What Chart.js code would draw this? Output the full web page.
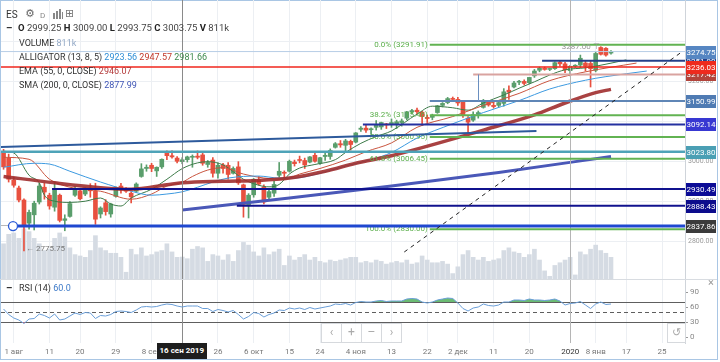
<!DOCTYPE html>
<html><head><meta charset="utf-8">
<script src="https://cdn.jsdelivr.net/npm/chart.js@4"></script>
<style>
html,body{margin:0;padding:0;background:#fff;width:720px;height:362px;overflow:hidden;font-family:Roboto,"Noto Sans",sans-serif;}
#frame{position:absolute;left:0;top:0;width:716px;height:358px;border:1px solid #a9c6e4;}
canvas{position:absolute;left:0;}
#cMain{top:0;}
#cRsi{top:279px;}
.t{position:absolute;white-space:nowrap;line-height:12px;color:#333;font-size:9px;z-index:5;}
.nav{position:absolute;top:323px;height:18px;width:19px;border:1px solid #d6d9dd;background:rgba(255,255,255,0.85);color:#aaa;font-size:12px;line-height:17px;text-align:center;z-index:5;}
</style></head>
<body>
<div id="frame"></div>
<canvas id="cMain" width="717" height="279"></canvas>
<canvas id="cRsi" width="717" height="83"></canvas>

<div class="t" style="left:6px;top:9px;font-size:10px;color:#333">ES</div>
<div class="t" style="left:25px;top:8px;font-size:11px;color:#666;font-family:'DejaVu Sans'">⚙</div>
<div class="t" style="left:40px;top:10px;font-size:8px;color:#888">D</div>
<div style="position:absolute;left:53px;top:13px;width:2px;height:6px;background:#888;z-index:5"></div>
<div style="position:absolute;left:56px;top:11px;width:2px;height:8px;background:#888;z-index:5"></div>
<div style="position:absolute;left:59px;top:9px;width:2px;height:10px;background:#888;z-index:5"></div>
<div style="position:absolute;left:62px;top:12px;width:1px;height:7px;background:#888;z-index:5"></div>
<div class="t" style="left:65px;top:8px;font-size:11px;color:#777;font-family:'DejaVu Sans'">⊞</div>
<div class="t" style="left:6px;top:22px;font-weight:bold;font-size:10px">–</div>
<div class="t" id="ohlc" style="left:18px;top:22px;font-size:9.5px;color:#444"></div>
<div class="t" id="hVol" style="left:19px;top:37px"></div>
<div class="t" id="hAll" style="left:19px;top:51px"></div>
<div class="t" id="hEma" style="left:19px;top:65px"></div>
<div class="t" id="hSma" style="left:19px;top:79px"></div>

<div class="t" style="left:6px;top:282px;font-weight:bold;font-size:10px">–</div>
<div class="t" id="hRsi" style="left:19px;top:282px"></div>
<div class="t" style="left:708px;top:277px;font-size:11px;color:#999">×</div>

<div class="nav" style="left:321px">‹</div>
<div class="nav" style="left:341px">+</div>
<div class="nav" style="left:361px">–</div>
<div class="nav" style="left:381px">›</div>
<div class="nav" style="left:667px;width:17px;font-family:'DejaVu Sans';font-size:11px">↺</div>

<div class="t" id="xBox" style="top:343px;height:16px;line-height:16px;background:#1e1e1e;color:#fff;font-weight:bold;font-size:8px;padding:0 3px;"></div>

<script>
// ---------------- DATA ----------------
const categories = [];
(function(){ const d = new Date(Date.UTC(2019,6,30)); while(categories.length < 134){ const w = d.getUTCDay(); if(w!==0 && w!==6) categories.push(d.toISOString().slice(0,10)); d.setUTCDate(d.getUTCDate()+1);} })();

const openP  = [3024,3008,2953,2933,2903,2845,2866,2898,2935,2915,2885,2915,2852,2862,2915,2926,2918,2928,2925,2868,2896,2868,2912,2938,2930,2920,2925,2962,2982,2990,2976,2986,3023,3014,3008,2999.25,3004,3010,3013,3016,2992,3003,2970,2991,2990,2970,2986,2941,2890,2916,2954,2936,2910,2920,2965,2972,2975,2998,3003,3002,2998,3015,2995,3012,3012,3035,3044,3040,3050,3048,3080,3083,3079,3085,3086,3092,3094,3092,3097,3108,3124,3128,3123,3110,3110,3122,3140,3147,3157,3155,3148,3108,3103,3118,3135,3150,3140,3140,3145,3178,3186,3198,3200,3197,3214,3228,3233,3230,3232,3248,3244,3227,3238,3241,3246,3245,3228,3285,3283,3271];
const highP  = [3030,3018,2960,2938,2906,2878,2900,2945,2945,2920,2948,2918,2866,2899,2936,2930,2934,2944,2945,2886,2904,2895,2936,2945,2934,2924,2946,2994,2991,2995,2986,3006,3026,3026,3012,3009,3013,3016,3026,3020,3002,3009,2996,2995,2997,2986,2999,2943,2919,2957,2962,2941,2930,2950,2997,2976,3003,3003,3013,3008,3012,3020,3010,3020,3031,3047,3052,3055,3053,3072,3087,3090,3084,3102,3098,3095,3106,3103,3106,3125,3130,3133,3125,3116,3118,3140,3147,3160,3161,3160,3152,3112,3124,3126,3155,3152,3148,3150,3182,3189,3200,3203,3204,3210,3230,3236,3236,3233,3249,3253,3248,3240,3242,3266,3252,3250,3274,3287,3285,3277];
const lowP   = [2980,2948,2935,2898,2775.75,2830,2828,2893,2905,2880,2875,2848,2826,2860,2912,2903,2914,2910,2842,2858,2865,2860,2910,2920,2922,2896,2922,2960,2975,2974,2962,2982,3004,3008,2996,2993.75,2998,2985,3006,2990,2985,2960,2958,2970,2955,2968,2942,2860,2858,2910,2940,2893,2905,2912,2960,2960,2973,2988,2996,2982,2996,2998,2992,3002,3005,3033,3035,3025,3028,3046,3075,3072,3068,3078,3080,3082,3085,3082,3088,3104,3118,3118,3090,3097,3104,3120,3136,3144,3152,3140,3110,3072,3100,3108,3133,3138,3133,3136,3138,3155,3184,3192,3191,3194,3210,3224,3228,3227,3230,3238,3222,3214,3235,3234,3226,3186,3224,3266,3263,3268];
const closeP = [2986,2955,2940,2903,2840,2872,2895,2938,2923,2888,2931,2852,2856,2894,2929,2906,2930,2926,2855,2883,2874,2893,2930,2932,2925,2911,2943,2981,2985,2982,2985,3005,3014,3011,3000,3003.75,3011,3012,3010,2995,2997,2970,2990,2982,2967,2982,2946,2892,2915,2955,2943,2898,2924,2942,2975,2970,3000,2994,3002,2991,3011,3000,3009,3015,3027,3044,3041,3051,3042,3071,3083,3078,3081,3090,3097,3091,3097,3099,3101,3124,3127,3124,3112,3107,3115,3139,3145,3157,3155,3146,3115,3098,3117,3122,3150,3141,3137,3147,3174,3173,3196,3199,3195,3210,3226,3233,3230,3231,3247,3244,3229,3238,3240,3258,3238,3232,3270,3268,3266,3274.75];
const volumeK = [1300,1650,1700,1500,1850,1750,1500,1300,1050,1100,1500,1700,1550,1150,900,850,800,1050,1600,1150,1050,950,950,800,250,1100,900,1150,850,900,1000,1050,1300,1000,800,811,750,1100,1200,1150,650,900,850,700,900,650,1050,1350,1250,1000,850,1150,900,1000,1100,500,850,700,800,900,700,800,650,600,700,650,700,750,800,800,600,650,600,700,650,550,600,650,600,700,550,600,850,700,600,600,650,550,200,450,900,1050,800,700,800,650,700,750,1050,1150,1000,950,800,900,1100,700,300,100,500,600,700,800,150,1000,900,1100,1250,1050,950,800];
const rsi14 = [56,45,38,34,27,36,37,46,43,38,46,34,36,42,48,45,49,48,37,43,42,45,51,52,51,49,54,60,61,60,61,64,66,65,62,60,62,62,62,57,57,51,55,53,50,53,45,36,41,49,47,40,45,48,54,53,58,56,58,55,59,56,58,60,62,66,65,67,64,69,71,70,70,72,73,71,72,72,72,76,77,76,70,68,70,74,76,78,77,68,57,52,58,60,66,63,62,64,70,70,74,74,73,76,74,74,73,74,76,72,64,67,68,71,64,57,66,70,65,66];

// indicator lines: [bar index, value]
const lipsPts  = [[0,3025],[2,3021],[5,2965],[7,2946],[8,2915],[10,2900],[13,2897],[16,2900],[19,2908],[21,2893],[23,2888],[25,2908],[29,2930],[32,2955],[35,2981.66],[38,2996],[40,2999],[43,2991],[45,2974],[47,2955],[50,2940],[52,2936],[54,2942],[56,2968],[58,2983],[61,2992],[65,3004],[67,3022],[70,3045],[73,3062],[76,3076],[81,3118],[84,3138],[88,3134],[91,3128],[94,3146],[98,3166],[101,3183],[104,3199],[107,3216],[110,3229],[114,3234],[116,3238],[122,3254]];
const teethPts = [[0,3010],[5,3005],[9,2955],[13,2935],[19,2925],[25,2905],[29,2918],[32,2938],[35,2947.57],[37,2962],[40,2978],[43,2984],[47,2968],[51,2958],[55,2955],[58,2968],[62,2982],[67,3003],[71,3024],[76,3046],[81,3085],[88,3112],[94,3140],[101,3170],[107,3202],[114,3224],[124,3246]];
const jawPts   = [[0,2985],[6,2995],[9,2993],[13,2975],[19,2948],[25,2925],[29,2915],[32,2918],[35,2923.56],[38,2935],[41,2948],[44,2958],[50,2963],[54,2958],[57,2958],[62,2970],[67,2988],[72,3004],[76,3022],[81,3058],[88,3094],[94,3122],[101,3152],[107,3181],[114,3203],[118,3212],[126,3226]];
const emaPts   = [[0,2962],[10,2946],[19,2934],[25,2930],[32,2941],[35,2946.07],[43,2950],[50,2952],[56,2958],[63,2975],[69,2995],[76,3014],[94,3078],[104,3116],[110,3146],[116,3172],[119,3180]];
const smaPts   = [[35,2878],[56,2908],[76,2938],[97,2972],[119,3012]];

const xTickDates = ['2019-08-01','2019-08-12','2019-08-20','2019-08-29','2019-09-09','2019-09-17','2019-09-26','2019-10-07','2019-10-16','2019-10-24','2019-11-04','2019-11-13','2019-11-22','2019-12-02','2019-12-11','2019-12-20','2020-01-01','2020-01-08','2020-01-16','2020-01-27'];
const xTickText  = ['1 авг','11','20','29','8 сен','','26','6 окт','15','24','4 ноя','13','22','2 дек','11','20','2020','8 янв','17','25'];
const priceTicks = [2800,2900,3000,3100,3200,3300];
const rsiTicks = [0,30,60,90];
const rsiBands = [30,70]; const rsiMid = 50;

// drawn levels (price) and their labels
const levelPrices = [3251.90,3274.75,3217.42,3236.03,3150.99,3092.14,3023.80,2930.49,2888.43,2837.86];
const levelStart  = [105.5,-1,92,-1,83.5,70.4,-1,9.5,45.7,1.85];
const fibHigh = 3291.91, fibLow = 2830.00, fibRatios = [0,0.382,0.5,0.618,1], fibStart = 83.5;
const trendA = [[-0.7,3035.6],[104.4,3075.6]];
const trendDash = [[78.5,2772.8],[133.1,3276]];
const vLink = [93,3217.42,3150.99];
const anchorCircle = [1.85,2837.86];
const grayLevel = 2841;
const crossIdx = 35, crossText = '16 сен 2019', yearIdx = 111;
const lowIdx = 4, highIdx = 117;
const headerAlligator = [2923.56,2947.57,2981.66], headerEma = 2946.07, headerSma = 2877.99;

// ---------------- STYLE ----------------
const UP='#5a9e6c', DN='#e8503f';
const levelStyle = [
 {c:'#24408a',w:2,box:'#24408a'},{c:'#b7cde6',w:1,box:'#5686c2'},{c:'#d9a3a0',w:2,box:'#b2443b'},{c:'#f0261c',w:1.5,box:'#ee2a1d'},
 {c:'#5f86b6',w:2,box:'#4f7bb3'},{c:'#2430a0',w:2,box:'#3838d2'},{c:'#4ea3b8',w:2.5,box:'#4a9fb4'},{c:'#10128e',w:2,box:'#0c0c96'},
 {c:'#10128e',w:2,box:'#0c0c8c'},{c:'#1f48d0',w:3,box:'#3b3b3b'}];

const ptsToXY = pts => pts.map(p=>({x:categories[p[0]], y:p[1]}));
const tickIdx = xTickDates.map(d=>categories.indexOf(d));
const tickTextByIdx = {}; tickIdx.forEach((v,k)=>tickTextByIdx[v]=xTickText[k]);
const colors = closeP.map((c,i)=> c>=openP[i]?UP:DN);

// header texts
const fmt = v=>v.toFixed(2);
document.getElementById('ohlc').innerHTML = `<b style="color:#222">O</b> ${fmt(openP[crossIdx])} <b style="color:#222">H</b> ${fmt(highP[crossIdx])} <b style="color:#222">L</b> ${fmt(lowP[crossIdx])} <b style="color:#222">C</b> ${fmt(closeP[crossIdx])} <b style="color:#222">V</b> ${volumeK[crossIdx]}k`;
document.getElementById('hVol').innerHTML = `VOLUME <span style="color:#93a9c6">${volumeK[crossIdx]}k</span>`;
document.getElementById('hAll').innerHTML = `ALLIGATOR (13, 8, 5) <span style="color:#2f8ed6">${fmt(headerAlligator[0])}</span> <span style="color:#c0392b">${fmt(headerAlligator[1])}</span> <span style="color:#3e8a4e">${fmt(headerAlligator[2])}</span>`;
document.getElementById('hEma').innerHTML = `EMA (55, 0, CLOSE) <span style="color:#b33a3a">${fmt(headerEma)}</span>`;
document.getElementById('hSma').innerHTML = `SMA (200, 0, CLOSE) <span style="color:#3f55b5">${fmt(headerSma)}</span>`;
document.getElementById('hRsi').innerHTML = `RSI (14) <span style="color:#3d7ac8">${rsi14[crossIdx].toFixed(1)}</span>`;

const filterTicks = s => { s.ticks = tickIdx.map(v=>({value:v})); };
const noPad = s => { s.paddingTop=0; s.paddingBottom=0; s.paddingLeft=0; s.paddingRight=0; };

// ---------------- MAIN CHART ----------------
const mainPlugin = {
  id:'mainAnno',
  afterDatasetsDraw(chart){
    const {ctx, chartArea:ca, scales:{x,y}} = chart;
    const px = i=>x.getPixelForValue(i), py = v=>y.getPixelForValue(v);
    ctx.save();
    ctx.beginPath(); ctx.rect(ca.left,ca.top,ca.width,ca.height); ctx.clip();
    ctx.strokeStyle='#b5b5b5'; ctx.lineWidth=1;
    let xx=Math.round(px(yearIdx))+0.5; ctx.beginPath(); ctx.moveTo(xx,ca.top); ctx.lineTo(xx,ca.bottom); ctx.stroke();
    ctx.strokeStyle='#8a8a8a';
    xx=Math.round(px(crossIdx))+0.5; ctx.beginPath(); ctx.moveTo(xx,ca.top); ctx.lineTo(xx,ca.bottom); ctx.stroke();
    ctx.strokeStyle='#b8b8b8'; ctx.lineWidth=1;
    let yy=Math.round(py(grayLevel))+0.5; ctx.beginPath(); ctx.moveTo(ca.left,yy); ctx.lineTo(ca.right,yy); ctx.stroke();
    ctx.font='8px Roboto'; ctx.textAlign='right'; ctx.textBaseline='middle';
    fibRatios.forEach(r=>{
      const v = fibHigh-(fibHigh-fibLow)*r; const yv=py(v); const x0=px(fibStart);
      ctx.strokeStyle='#62b352'; ctx.lineWidth=2;
      ctx.beginPath(); ctx.moveTo(x0,yv); ctx.lineTo(ca.right,yv); ctx.stroke();
      ctx.fillStyle='#5aae4a';
      ctx.fillText((r*100).toFixed(1)+'% ('+v.toFixed(2)+')', x0-2, yv);
    });
    levelPrices.forEach((v,k)=>{
      const st=levelStyle[k]; const yv=py(v);
      const x0 = levelStart[k]<0?ca.left:px(levelStart[k]);
      ctx.strokeStyle=st.c; ctx.lineWidth=st.w;
      ctx.beginPath(); ctx.moveTo(x0,yv); ctx.lineTo(ca.right,yv); ctx.stroke();
    });
    ctx.strokeStyle='#6a8fc0'; ctx.lineWidth=1;
    xx=Math.round(px(vLink[0]))+0.5; ctx.beginPath(); ctx.moveTo(xx,py(vLink[1])); ctx.lineTo(xx,py(vLink[2])); ctx.stroke();
    ctx.strokeStyle='#2d5a9c'; ctx.lineWidth=2;
    ctx.beginPath(); ctx.moveTo(px(trendA[0][0]),py(trendA[0][1])); ctx.lineTo(px(trendA[1][0]),py(trendA[1][1])); ctx.stroke();
    ctx.strokeStyle='#222'; ctx.lineWidth=1; ctx.setLineDash([4,4]);
    ctx.beginPath(); ctx.moveTo(px(trendDash[0][0]),py(trendDash[0][1])); ctx.lineTo(px(trendDash[1][0]),py(trendDash[1][1])); ctx.stroke();
    ctx.setLineDash([]);
    ctx.fillStyle='#fff'; ctx.strokeStyle='#2a5bd7'; ctx.lineWidth=1.3;
    ctx.beginPath(); ctx.arc(px(anchorCircle[0]),py(anchorCircle[1]),4.5,0,Math.PI*2); ctx.fill(); ctx.stroke();
    ctx.font='8px Roboto'; ctx.fillStyle='#777'; ctx.textAlign='left';
    ctx.fillText('← '+lowP[lowIdx].toFixed(2), px(lowIdx)+2, py(lowP[lowIdx])-2);
    ctx.textAlign='right'; ctx.fillStyle='#999';
    ctx.fillText(highP[highIdx].toFixed(2)+' ⊤', px(highIdx)-1, py(highP[highIdx]));
    ctx.restore();
  },
  afterDraw(chart){
    const {ctx, chartArea:ca, scales:{y}} = chart;
    ctx.save();
    ctx.font='8px Roboto'; ctx.textAlign='center'; ctx.textBaseline='middle';
    levelPrices.forEach((v,k)=>{
      const yv=Math.round(y.getPixelForValue(v));
      ctx.fillStyle=levelStyle[k].box; ctx.fillRect(ca.right+1,yv-6,30,13);
      ctx.fillStyle='#fff'; ctx.fillText(v.toFixed(2), ca.right+16, yv+0.5);
    });
    ctx.restore();
  }
};

new Chart(document.getElementById('cMain'),{
  data:{
    labels:categories,
    datasets:[
      {type:'line',label:'EMA',data:ptsToXY(emaPts),borderColor:'rgba(160,45,45,0.9)',borderWidth:3.5,pointRadius:0,cubicInterpolationMode:'monotone',order:1},
      {type:'line',label:'SMA',data:ptsToXY(smaPts),borderColor:'#4a58b8',borderWidth:3,pointRadius:0,cubicInterpolationMode:'monotone',order:1},
      {type:'line',label:'jaw',data:ptsToXY(jawPts),borderColor:'#3d9ae0',borderWidth:1,pointRadius:0,cubicInterpolationMode:'monotone',order:1},
      {type:'line',label:'teeth',data:ptsToXY(teethPts),borderColor:'#c9553f',borderWidth:1,pointRadius:0,cubicInterpolationMode:'monotone',order:1},
      {type:'line',label:'lips',data:ptsToXY(lipsPts),borderColor:'#3c7a48',borderWidth:1,pointRadius:0,cubicInterpolationMode:'monotone',order:1},
      {type:'bar',label:'body',data:openP.map((o,i)=>[o,closeP[i]]),backgroundColor:colors,barThickness:4,minBarLength:1,grouped:false,order:2},
      {type:'bar',label:'wick',data:lowP.map((l,i)=>[l,highP[i]]),backgroundColor:colors,barThickness:1,grouped:false,order:3},
      {type:'bar',label:'vol',data:volumeK,yAxisID:'yVol',backgroundColor:'#d5dbe3',barThickness:4,grouped:false,order:9}
    ]
  },
  options:{
    responsive:false,animation:false,devicePixelRatio:1,events:[],
    layout:{autoPadding:false,padding:{left:1,right:1,top:0,bottom:0}},
    plugins:{legend:{display:false},tooltip:{enabled:false}},
    scales:{
      x:{type:'category',offset:true,grid:{color:'#eceff3',offset:false,drawTicks:false},ticks:{display:false},border:{display:false},afterBuildTicks:filterTicks,afterFit:s=>{s.height=0;noPad(s);}},
      y:{position:'right',min:2705.2,max:3403.9,afterBuildTicks:s=>{s.ticks=priceTicks.map(v=>({value:v}));},
         ticks:{font:{size:7,family:'Roboto'},color:'#9a9a9a',padding:3,callback:v=>v<=3200?v.toFixed(2):''},
         grid:{color:'#eceff3',drawTicks:false},border:{display:true,color:'#cfd4da'},afterFit:s=>{s.width=31;noPad(s);}},
      yVol:{position:'left',display:false,min:0,max:10300}
    }
  },
  plugins:[mainPlugin]
});

// ---------------- RSI CHART ----------------
const rsiPlugin = {
  id:'rsiAnno',
  beforeDatasetsDraw(chart){
    const {ctx, chartArea:ca, scales:{x,y}} = chart;
    ctx.save();
    ctx.strokeStyle='#d8dce1'; ctx.lineWidth=1;
    ctx.beginPath(); ctx.moveTo(0,0.5); ctx.lineTo(717,0.5); ctx.stroke();
    ctx.strokeStyle='#5e5e5e';
    rsiBands.forEach(v=>{const yy=Math.round(y.getPixelForValue(v))+0.5; ctx.beginPath(); ctx.moveTo(ca.left,yy); ctx.lineTo(ca.right,yy); ctx.stroke();});
    ctx.setLineDash([4,3]);
    const ym=Math.round(y.getPixelForValue(rsiMid))+0.5; ctx.beginPath(); ctx.moveTo(ca.left,ym); ctx.lineTo(ca.right,ym); ctx.stroke();
    ctx.setLineDash([]);
    ctx.strokeStyle='#b5b5b5';
    let xx=Math.round(x.getPixelForValue(yearIdx))+0.5; ctx.beginPath(); ctx.moveTo(xx,ca.top); ctx.lineTo(xx,ca.bottom); ctx.stroke();
    ctx.strokeStyle='#8a8a8a';
    xx=Math.round(x.getPixelForValue(crossIdx))+0.5; ctx.beginPath(); ctx.moveTo(xx,ca.top); ctx.lineTo(xx,ca.bottom); ctx.stroke();
    ctx.restore();
    const bx=document.getElementById('xBox'); bx.textContent=crossText;
    bx.style.left=(Math.round(x.getPixelForValue(crossIdx))-bx.offsetWidth/2)+'px';
  }
};

new Chart(document.getElementById('cRsi'),{
  data:{
    labels:categories,
    datasets:[
      {type:'line',data:rsi14,borderColor:'#6a9ed8',borderWidth:1,pointRadius:0,tension:0,fill:{target:{value:30},above:'rgba(0,0,0,0)',below:'rgba(232,90,90,0.85)'}},
      {type:'line',data:rsi14,borderColor:'rgba(0,0,0,0)',borderWidth:0,pointRadius:0,tension:0,fill:{target:{value:70},above:'rgba(70,170,80,0.8)',below:'rgba(0,0,0,0)'}}
    ]
  },
  options:{
    responsive:false,animation:false,devicePixelRatio:1,events:[],
    layout:{autoPadding:false,padding:{left:1,right:1,top:1,bottom:0}},
    plugins:{legend:{display:false},tooltip:{enabled:false}},
    scales:{
      x:{type:'category',offset:true,grid:{color:'#eceff3',offset:false,drawTicks:false},border:{display:false},afterBuildTicks:filterTicks,
         ticks:{autoSkip:false,maxRotation:0,padding:4,font:{size:8,family:'Roboto'},color:c=>c.tick&&c.tick.label==='2020'?'#333':'#777',callback:v=>tickTextByIdx[v]},
         afterFit:s=>{s.height=19;noPad(s);}},
      y:{position:'right',min:-12,max:114,afterBuildTicks:s=>{s.ticks=rsiTicks.map(v=>({value:v}));},
         ticks:{font:{size:8,family:'Roboto'},color:'#888',padding:2},
         grid:{drawOnChartArea:false,drawTicks:true,tickLength:3,tickColor:'#999'},border:{display:true,color:'#cfd4da'},afterFit:s=>{s.width=31;noPad(s);}}
    }
  },
  plugins:[rsiPlugin]
});
</script>
</body></html>
